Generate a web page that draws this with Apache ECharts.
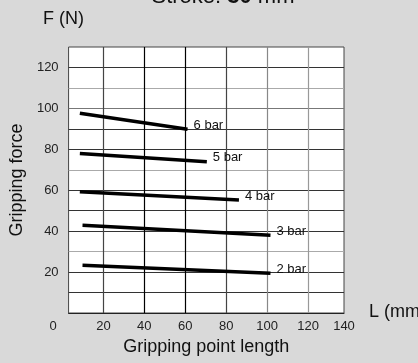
<!DOCTYPE html>
<html>
<head>
<meta charset="utf-8">
<script src="https://cdn.jsdelivr.net/npm/echarts@6/dist/echarts.min.js"></script>
<style>
html,body{margin:0;padding:0;background:#d9d9d9;}
#c{width:418px;height:363px;}
</style>
</head>
<body>
<div id="c"></div>
<script>
// ---- data ----
const seriesNames = ['6 bar', '5 bar', '4 bar', '3 bar', '2 bar'];
const len6 = [8.5, 61.1];  const force6 = [97.6, 89.8];
const len5 = [8.5, 70.5];  const force5 = [78.0, 73.9];
const len4 = [8.5, 86.2];  const force4 = [59.3, 55.2];
const len3 = [9.8, 101.6]; const force3 = [42.9, 38.0];
const len2 = [9.8, 101.6]; const force2 = [23.3, 19.4];
const xTickLabels = [20, 40, 60, 80, 100, 120];
const xEdgeLabels = [0, 140];
const yTickLabels = [20, 40, 60, 80, 100, 120];

const lens = [len6, len5, len4, len3, len2];
const forces = [force6, force5, force4, force3, force2];

const FONT = "'Liberation Sans', Arial, sans-serif";

const series = seriesNames.map((name, i) => {
  const L = lens[i], F = forces[i];
  return {
    name: name,
    type: 'line',
    xAxisIndex: 0, yAxisIndex: 0,
    data: L.map((x, k) => [x, F[k]]),
    symbol: 'none',
    lineStyle: { color: '#000', width: 3.5 },
    endLabel: {
      show: true,
      formatter: '{a}',
      distance: 6,
      offset: [0, -4],
      color: '#111',
      fontFamily: FONT,
      fontSize: 13
    },
    emphasis: { disabled: true },
    silent: true,
    animation: false
  };
});

const chart = echarts.init(document.getElementById('c'), null, { renderer: 'canvas' });
chart.setOption({
  backgroundColor: '#d9d9d9',
  animation: false,
  title: {
    text: 'Stroke: {b|30} mm',
    left: 223,
    textAlign: 'center',
    top: -14,
    padding: 0,
    textStyle: {
      fontFamily: FONT, fontSize: 22, fontWeight: 'normal', color: '#111',
      rich: { b: { fontFamily: FONT, fontSize: 22, fontWeight: 'bold', color: '#111' } }
    }
  },
  graphic: [
    { type: 'text', left: 43, top: 10, style: { text: 'F (N)', font: "18px 'Liberation Sans', Arial", fill: '#111' } },
    { type: 'text', left: 369, top: 303, style: { text: 'L (mm)', font: "18px 'Liberation Sans', Arial", fill: '#111' } }
  ],
  grid: [
    { left: 67, right: 74, top: 47, bottom: 50, show: true, backgroundColor: '#fff', borderColor: '#444', borderWidth: 1 },
    { left: 53, right: 74, top: 47, bottom: 50, show: false }
  ],
  xAxis: [
    {
      type: 'value', gridIndex: 0, min: 3, max: 137.5,
      name: 'Gripping point length', nameLocation: 'middle', nameGap: 25,
      nameTextStyle: { fontFamily: FONT, fontSize: 18, color: '#111' },
      axisLine: { show: true, lineStyle: { color: '#222', width: 1 } },
      axisTick: { show: false, customValues: xTickLabels },
      axisLabel: { customValues: xTickLabels, margin: 7, fontFamily: FONT, fontSize: 13, color: '#222' },
      splitLine: { show: true, showMinLine: true, showMaxLine: true,
        lineStyle: { width: 1.2, color: ['#444', '#000', '#000', '#444', '#888', '#999'] } }
    },
    {
      type: 'value', gridIndex: 1, min: 0, max: 140,
      axisLine: { show: false }, axisTick: { show: false, customValues: xEdgeLabels },
      axisLabel: { customValues: xEdgeLabels, margin: 7, fontFamily: FONT, fontSize: 13, color: '#222',
        showMinLabel: true, showMaxLabel: true },
      splitLine: { show: false }
    }
  ],
  yAxis: [
    {
      type: 'value', gridIndex: 0, min: 0, max: 130, interval: 10,
      name: 'Gripping force', nameLocation: 'middle', nameGap: 40,
      nameTextStyle: { fontFamily: FONT, fontSize: 18, color: '#111' },
      axisLine: { show: false }, axisTick: { show: false },
      axisLabel: { margin: 10, fontFamily: FONT, fontSize: 13, color: '#222',
        formatter: v => yTickLabels.indexOf(v) >= 0 ? String(v) : '' },
      splitLine: { show: true, showMinLine: false, showMaxLine: false,
        lineStyle: { width: 1, color: ['#333', '#333', '#aaa', '#333', '#333', '#333', '#aaa', '#333', '#333', '#777', '#aaa', '#333'] } }
    },
    { type: 'value', gridIndex: 1, min: 0, max: 130, show: false }
  ],
  series: series
});
</script>
</body>
</html>
